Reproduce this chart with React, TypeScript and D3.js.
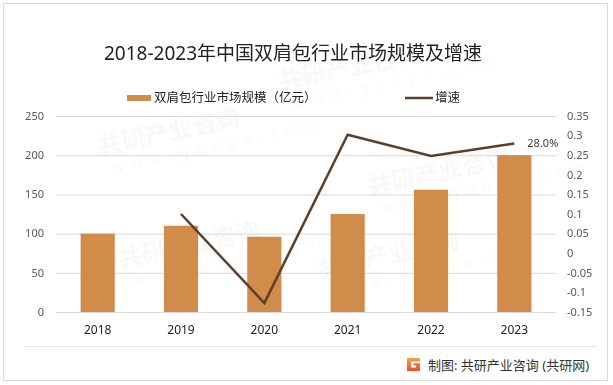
import React, { useEffect, useRef } from 'react';
import * as d3 from 'd3';

const years = ['2018', '2019', '2020', '2021', '2022', '2023'];
const marketSize = [100, 110, 96, 125, 156, 200];
const growth = [null, 0.1, -0.127, 0.302, 0.248, 0.28];
const leftTicks = [0, 50, 100, 150, 200, 250];
const rightTicks = [-0.15, -0.1, -0.05, 0, 0.05, 0.1, 0.15, 0.2, 0.25, 0.3, 0.35];

const W = 613;
const H = 385;
const FONT = '"Noto Sans", "Noto Sans CJK SC", sans-serif';

const App: React.FC = () => {
  const svgRef = useRef<SVGSVGElement>(null);

  useEffect(() => {
    if (!svgRef.current) return;
    const svg = d3.select(svgRef.current);
    svg.selectAll('*').remove();

    const left = 56;
    const right = 556;
    const top = 116;
    const bottom = 312;

    const x = d3.scaleBand<string>().domain(years).range([left, right]).paddingInner(0.59).paddingOuter(0.295);
    const yL = d3.scaleLinear().domain([0, 250]).range([bottom, top]);
    const yR = d3.scaleLinear().domain([-0.15, 0.35]).range([bottom, top]);

    // frame
    svg.append('rect')
      .attr('x', 3.5).attr('y', 3.5).attr('width', 604).attr('height', 377)
      .attr('fill', '#fff').attr('stroke', '#d9d9d9');

    // faint watermarks (kept inside the frame)
    const wm = svg.append('g').attr('fill', '#000').attr('opacity', 0.03).attr('font-family', FONT);
    const wmPos = [[100, 155], [280, 90], [370, 195], [120, 268], [320, 278]];
    wmPos.forEach(([wx, wy]) => {
      const g = wm.append('g').attr('transform', `translate(${wx},${wy}) rotate(-12)`);
      g.append('text').attr('font-size', 24).attr('font-weight', 'bold').text('共研产业咨询');
      g.append('text').attr('y', 20).attr('x', 10).attr('font-size', 14).attr('letter-spacing', 8).text('www.gonyn.com');
    });

    // gridlines
    svg.append('g').selectAll('line').data(leftTicks).join('line')
      .attr('x1', left).attr('x2', right)
      .attr('y1', d => yL(d) + 0.5).attr('y2', d => yL(d) + 0.5)
      .attr('stroke', '#d9d9d9').attr('stroke-width', 1);

    // left axis labels
    svg.append('g').selectAll('text').data(leftTicks).join('text')
      .attr('x', 44).attr('y', d => yL(d)).attr('dy', '0.35em')
      .attr('text-anchor', 'end').attr('font-size', 11).attr('fill', '#595959')
      .attr('font-family', FONT).text(d => d);

    // right axis labels
    svg.append('g').selectAll('text').data(rightTicks).join('text')
      .attr('x', 567).attr('y', d => yR(d)).attr('dy', '0.35em')
      .attr('text-anchor', 'start').attr('font-size', 11).attr('fill', '#595959')
      .attr('font-family', FONT).text(d => String(+d.toFixed(2)));

    // bars
    svg.append('g').selectAll('rect').data(marketSize).join('rect')
      .attr('x', (_, i) => x(years[i])!)
      .attr('width', x.bandwidth())
      .attr('y', d => yL(d))
      .attr('height', d => yL(0) - yL(d))
      .attr('fill', '#d18b4b');

    // x labels
    svg.append('g').selectAll('text').data(years).join('text')
      .attr('x', d => x(d)! + x.bandwidth() / 2).attr('y', 334)
      .attr('text-anchor', 'middle').attr('font-size', 12).attr('fill', '#222')
      .attr('font-family', FONT).text(d => d);

    // growth line
    const pts = growth.map((g, i) => ({ yr: years[i], g })).filter(p => p.g !== null) as { yr: string; g: number }[];
    const line = d3.line<{ yr: string; g: number }>()
      .x(p => x(p.yr)! + x.bandwidth() / 2)
      .y(p => yR(p.g));
    svg.append('path').datum(pts).attr('d', line)
      .attr('fill', 'none').attr('stroke', '#5b3f2b').attr('stroke-width', 2.5)
      .attr('stroke-linejoin', 'miter');

    const last = pts[pts.length - 1];
    svg.append('text')
      .attr('x', x(last.yr)! + x.bandwidth() / 2 + 13).attr('y', yR(last.g)).attr('dy', '0.35em')
      .attr('font-size', 11).attr('fill', '#404040').attr('font-family', FONT)
      .text(d3.format('.1%')(last.g));

    // title
    svg.append('text')
      .attr('x', 293).attr('y', 60).attr('text-anchor', 'middle')
      .attr('font-size', 19).attr('fill', '#222').attr('font-family', FONT)
      .text('2018-2023年中国双肩包行业市场规模及增速');

    // legend
    svg.append('rect').attr('x', 127).attr('y', 95).attr('width', 24).attr('height', 6).attr('fill', '#d18b4b');
    svg.append('text').attr('x', 154).attr('y', 98).attr('dy', '0.35em')
      .attr('font-size', 12.5).attr('fill', '#222').attr('font-family', FONT)
      .text('双肩包行业市场规模（亿元）');
    svg.append('line').attr('x1', 405).attr('x2', 433).attr('y1', 98).attr('y2', 98)
      .attr('stroke', '#5b3f2b').attr('stroke-width', 2.5);
    svg.append('text').attr('x', 435).attr('y', 98).attr('dy', '0.35em')
      .attr('font-size', 12.5).attr('fill', '#222').attr('font-family', FONT)
      .text('增速');

    // separator + source
    svg.append('line').attr('x1', 25).attr('x2', 597).attr('y1', 346.5).attr('y2', 346.5)
      .attr('stroke', '#e6e6e6');
    const grad = svg.append('defs').append('linearGradient').attr('id', 'lg').attr('x1', 0).attr('y1', 0).attr('x2', 0).attr('y2', 1);
    grad.append('stop').attr('offset', '0%').attr('stop-color', '#f7a24a');
    grad.append('stop').attr('offset', '100%').attr('stop-color', '#e8512f');
    svg.append('g').attr('transform', 'translate(407,358)').append('path')
      .attr('d', 'M0,0 H13 V3.5 H4 V9.5 H9 V7.5 H6.5 V5 H13 V13 H0 Z')
      .attr('fill', 'url(#lg)');
    svg.append('text').attr('x', 428).attr('y', 365).attr('dy', '0.35em')
      .attr('font-size', 13).attr('fill', '#333').attr('font-family', FONT)
      .text('制图: 共研产业咨询 (共研网)');
  }, []);

  return (
    <svg ref={svgRef} width={W} height={H}
      style={{ position: 'absolute', left: 0, top: 0, background: '#fff' }} />
  );
};

export default App;
